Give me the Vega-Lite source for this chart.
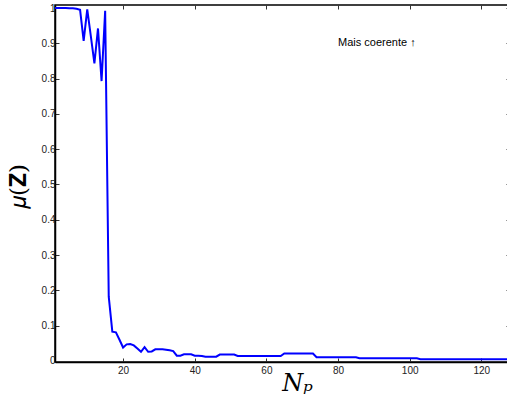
{
  "$schema": "https://vega.github.io/schema/vega-lite/v6.json",
  "width": 455,
  "height": 357,
  "autosize": {"type": "none"},
  "padding": {"left": 55, "top": 5, "right": 0, "bottom": 39},
  "background": "white",
  "config": {
    "view": {"stroke": "#000", "strokeWidth": 1.5},
    "axis": {
      "domainColor": "#000",
      "domainWidth": 1.5,
      "tickColor": "#333",
      "tickWidth": 1,
      "tickSize": -4,
      "grid": false,
      "labelFont": "Liberation Sans",
      "labelFontSize": 10,
      "labelColor": "#222",
      "titleFont": "DejaVu Serif",
      "titleFontStyle": "italic",
      "titleFontWeight": "normal",
      "titleColor": "#000"
    }
  },
  "data": {
    "values": [
      {"Np": 1, "mu": 1.0}, {"Np": 2, "mu": 1.0}, {"Np": 3, "mu": 1.0}, {"Np": 4, "mu": 1.0},
      {"Np": 5, "mu": 0.999}, {"Np": 6, "mu": 0.999}, {"Np": 7, "mu": 0.998}, {"Np": 8, "mu": 0.995},
      {"Np": 9, "mu": 0.907}, {"Np": 10, "mu": 0.996}, {"Np": 11, "mu": 0.92}, {"Np": 12, "mu": 0.843},
      {"Np": 13, "mu": 0.942}, {"Np": 14, "mu": 0.793}, {"Np": 15, "mu": 0.992}, {"Np": 16, "mu": 0.182},
      {"Np": 17, "mu": 0.083}, {"Np": 18, "mu": 0.081}, {"Np": 19, "mu": 0.06}, {"Np": 20, "mu": 0.038},
      {"Np": 21, "mu": 0.047}, {"Np": 22, "mu": 0.048}, {"Np": 23, "mu": 0.044}, {"Np": 24, "mu": 0.035},
      {"Np": 25, "mu": 0.026}, {"Np": 26, "mu": 0.039}, {"Np": 27, "mu": 0.026}, {"Np": 28, "mu": 0.027},
      {"Np": 29, "mu": 0.033}, {"Np": 30, "mu": 0.033}, {"Np": 31, "mu": 0.033}, {"Np": 32, "mu": 0.032},
      {"Np": 33, "mu": 0.03}, {"Np": 34, "mu": 0.028}, {"Np": 35, "mu": 0.015}, {"Np": 36, "mu": 0.015},
      {"Np": 37, "mu": 0.019}, {"Np": 38, "mu": 0.019}, {"Np": 39, "mu": 0.019}, {"Np": 40, "mu": 0.015},
      {"Np": 41, "mu": 0.015}, {"Np": 42, "mu": 0.014}, {"Np": 43, "mu": 0.012}, {"Np": 44, "mu": 0.012},
      {"Np": 45, "mu": 0.012}, {"Np": 46, "mu": 0.012}, {"Np": 47, "mu": 0.018}, {"Np": 48, "mu": 0.018},
      {"Np": 49, "mu": 0.018}, {"Np": 50, "mu": 0.018}, {"Np": 51, "mu": 0.018}, {"Np": 52, "mu": 0.014},
      {"Np": 53, "mu": 0.014}, {"Np": 54, "mu": 0.014}, {"Np": 55, "mu": 0.014}, {"Np": 56, "mu": 0.014},
      {"Np": 57, "mu": 0.014}, {"Np": 58, "mu": 0.014}, {"Np": 59, "mu": 0.014}, {"Np": 60, "mu": 0.014},
      {"Np": 61, "mu": 0.014}, {"Np": 62, "mu": 0.014}, {"Np": 63, "mu": 0.014}, {"Np": 64, "mu": 0.014},
      {"Np": 65, "mu": 0.021}, {"Np": 66, "mu": 0.021}, {"Np": 67, "mu": 0.021}, {"Np": 68, "mu": 0.021},
      {"Np": 69, "mu": 0.021}, {"Np": 70, "mu": 0.021}, {"Np": 71, "mu": 0.021}, {"Np": 72, "mu": 0.021},
      {"Np": 73, "mu": 0.021}, {"Np": 74, "mu": 0.0105}, {"Np": 75, "mu": 0.0105}, {"Np": 76, "mu": 0.0105},
      {"Np": 77, "mu": 0.0105}, {"Np": 78, "mu": 0.0105}, {"Np": 79, "mu": 0.0105}, {"Np": 80, "mu": 0.0105},
      {"Np": 81, "mu": 0.0105}, {"Np": 82, "mu": 0.0105}, {"Np": 83, "mu": 0.0105}, {"Np": 84, "mu": 0.0105},
      {"Np": 85, "mu": 0.0105}, {"Np": 86, "mu": 0.0075}, {"Np": 87, "mu": 0.0075}, {"Np": 88, "mu": 0.0075},
      {"Np": 89, "mu": 0.0075}, {"Np": 90, "mu": 0.0075}, {"Np": 91, "mu": 0.0075}, {"Np": 92, "mu": 0.0075},
      {"Np": 93, "mu": 0.0075}, {"Np": 94, "mu": 0.0075}, {"Np": 95, "mu": 0.0075}, {"Np": 96, "mu": 0.0075},
      {"Np": 97, "mu": 0.0075}, {"Np": 98, "mu": 0.0075}, {"Np": 99, "mu": 0.0075}, {"Np": 100, "mu": 0.0075},
      {"Np": 101, "mu": 0.0075}, {"Np": 102, "mu": 0.0075}, {"Np": 103, "mu": 0.005}, {"Np": 104, "mu": 0.005},
      {"Np": 105, "mu": 0.005}, {"Np": 106, "mu": 0.005}, {"Np": 107, "mu": 0.005}, {"Np": 108, "mu": 0.005},
      {"Np": 109, "mu": 0.005}, {"Np": 110, "mu": 0.005}, {"Np": 111, "mu": 0.005}, {"Np": 112, "mu": 0.005},
      {"Np": 113, "mu": 0.005}, {"Np": 114, "mu": 0.005}, {"Np": 115, "mu": 0.005}, {"Np": 116, "mu": 0.005},
      {"Np": 117, "mu": 0.005}, {"Np": 118, "mu": 0.005}, {"Np": 119, "mu": 0.005}, {"Np": 120, "mu": 0.005},
      {"Np": 121, "mu": 0.005}, {"Np": 122, "mu": 0.005}, {"Np": 123, "mu": 0.005}, {"Np": 124, "mu": 0.005},
      {"Np": 125, "mu": 0.005}, {"Np": 126, "mu": 0.005}, {"Np": 127, "mu": 0.005}, {"Np": 128, "mu": 0.005}
    ]
  },
  "layer": [
    {
      "mark": {"type": "line", "color": "#0000ff", "strokeWidth": 2, "clip": true},
      "encoding": {
        "x": {
          "field": "Np", "type": "quantitative",
          "scale": {"domain": [1, 128], "nice": false, "zero": false},
          "axis": {"orient": "bottom", "values": [20, 40, 60, 80, 100, 120], "format": "d",
                   "title": "Nₚ", "titleFontSize": 24, "titleX": 242, "titleY": 28, "titleBaseline": "alphabetic", "labelPadding": 7}
        },
        "y": {
          "field": "mu", "type": "quantitative",
          "scale": {"domain": [-0.003, 1.0085], "nice": false, "zero": false},
          "axis": {"orient": "left", "values": [0, 0.1, 0.2, 0.3, 0.4, 0.5, 0.6, 0.7, 0.8, 0.9, 1], "format": "~r",
                   "title": "𝜇(𝐙)", "titleFontSize": 23, "titleFontStyle": "normal", "titleX": -37, "titleY": 181, "titleBaseline": "middle", "labelPadding": 4}
        }
      }
    },
    {
      "mark": {"type": "line", "opacity": 0},
      "encoding": {
        "x": {"field": "Np", "type": "quantitative",
              "axis": {"orient": "top", "values": [20, 40, 60, 80, 100, 120], "labels": false, "title": null, "domain": false}},
        "y": {"field": "mu", "type": "quantitative",
              "axis": {"orient": "right", "values": [0, 0.1, 0.2, 0.3, 0.4, 0.5, 0.6, 0.7, 0.8, 0.9, 1], "labels": false, "title": null, "domain": false}}
      }
    },
    {
      "data": {"values": [{"x": 80, "y": 0.9, "label": "Mais coerente ↑"}]},
      "mark": {"type": "text", "align": "left", "baseline": "middle", "font": "Liberation Sans", "fontSize": 11, "color": "#000"},
      "encoding": {
        "x": {"field": "x", "type": "quantitative", "axis": null},
        "y": {"field": "y", "type": "quantitative", "axis": null},
        "text": {"field": "label"}
      }
    }
  ],
  "resolve": {"axis": {"x": "independent", "y": "independent"}}
}
